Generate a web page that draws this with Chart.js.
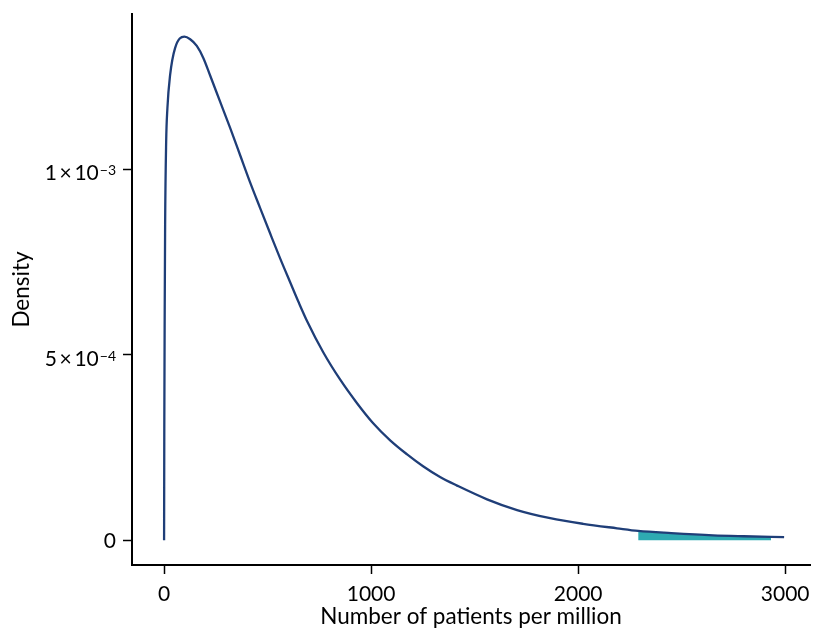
<!DOCTYPE html>
<html>
<head>
<meta charset="utf-8">
<script src="https://cdn.jsdelivr.net/npm/chart.js@4"></script>
<style>
  html, body { margin: 0; padding: 0; background: #fff; }
  #wrap { width: 814px; height: 630px; }
</style>
</head>
<body>
<div id="wrap"><canvas id="densityChart" width="814" height="630"></canvas></div>
<script>
// density curve (x = patients per million, y = density)
const curveX = [0, 1, 3, 5, 10, 16, 29, 53, 98, 126, 158, 190, 222, 271, 319, 367, 415, 464, 512, 560, 609, 650, 691, 768, 850, 932, 1010, 1092, 1174, 1251, 1333, 1415, 1560, 1705, 1865, 2024, 2188, 2290, 2450, 2652, 2800, 2995];
const curveY = [0, 0.00030, 0.00062, 0.00085, 0.001073, 0.001164, 0.001253, 0.001326, 0.001357, 0.001350, 0.001332, 0.001299, 0.001253, 0.001181, 0.001111, 0.001038, 0.000965, 0.000895, 0.000827, 0.000760, 0.000695, 0.000641, 0.000590, 0.000507, 0.000433, 0.000369, 0.000315, 0.000269, 0.000231, 0.000199, 0.000170, 0.000147, 0.000110, 0.000081, 0.000059, 0.000044, 0.000032, 0.000025, 0.000019, 0.000013, 0.0000105, 0.000008];

// shaded tail area
const tailX = [2290, 2450, 2652, 2800, 2932];
const tailY = [0.000024, 0.000018, 0.000012, 0.0000095, 0.000008];

const xTicks = [0, 1000, 2000, 3000];
const yTicks = [0, 0.0005, 0.001];
// y tick labels as [mantissa part, exponent]
const yTickBase = ['0', '5\u2009\u00d7\u200910', '1\u2009\u00d7\u200910'];
const yTickExp = ['', '\u22124', '\u22123'];

const toPts = (xs, ys) => xs.map((x, i) => ({ x: x, y: ys[i] }));

// draws "a×10" with a raised exponent, right aligned next to each y tick
const yLabels = {
    id: 'yLabels',
    afterDraw(chart) {
        const c = chart.ctx;
        const sy = chart.scales.y;
        const right = 116;
        c.save();
        c.fillStyle = '#000';
        c.textBaseline = 'alphabetic';
        yTicks.forEach((v, i) => {
            const py = sy.getPixelForValue(v);
            c.font = '14px Lato';
            const ew = yTickExp[i] ? c.measureText(yTickExp[i]).width : 0;
            if (yTickExp[i]) {
                c.textAlign = 'right';
                c.fillText(yTickExp[i], right, py + 6);
            }
            c.font = '21px Lato';
            c.textAlign = 'right';
            c.fillText(yTickBase[i], right - ew - (ew ? 1 : 0), py + (ew ? 11 : 7.5));
        });
        c.restore();
    }
};

const ctx = document.getElementById('densityChart').getContext('2d');

new Chart(ctx, {
    type: 'line',
    data: {
        datasets: [
            {
                label: 'Density',
                data: toPts(curveX, curveY),
                borderColor: '#1f3e78',
                borderWidth: 2.3,
                pointRadius: 0,
                cubicInterpolationMode: 'monotone',
                fill: false,
                order: 1
            },
            {
                label: 'Tail',
                data: toPts(tailX, tailY),
                borderWidth: 0,
                borderColor: 'rgba(0,0,0,0)',
                backgroundColor: '#2eaab2',
                pointRadius: 0,
                cubicInterpolationMode: 'monotone',
                fill: 'origin',
                order: 2
            }
        ]
    },
    options: {
        responsive: false,
        animation: false,
        layout: { padding: { top: 14, right: 4, left: 0, bottom: 0 } },
        plugins: {
            legend: { display: false },
            tooltip: { enabled: false }
        },
        scales: {
            x: {
                type: 'linear',
                min: -155,
                max: 3120,
                afterBuildTicks: s => { s.ticks = xTicks.map(v => ({ value: v })); },
                afterFit: s => { s.height = 65; s.paddingLeft = 0; s.paddingRight = 0; },
                grid: { drawOnChartArea: false, tickLength: 9, tickWidth: 1.5, tickColor: '#000' },
                border: { color: '#000', width: 2 },
                ticks: {
                    color: '#000',
                    font: { family: 'Lato', size: 21 },
                    padding: 8,
                    maxRotation: 0,
                    callback: v => String(v)
                },
                title: {
                    display: true,
                    text: 'Number of patients per million',
                    color: '#000',
                    font: { family: 'Lato', size: 22.5 },
                    padding: { top: 0, bottom: 0 }
                }
            },
            y: {
                type: 'linear',
                min: -0.000067,
                max: 0.001418,
                afterBuildTicks: s => { s.ticks = yTicks.map(v => ({ value: v })); },
                afterFit: s => { s.width = 132; s.paddingTop = 0; s.paddingBottom = 0; },
                grid: { drawOnChartArea: false, tickLength: 9, tickWidth: 1.5, tickColor: '#000' },
                border: { color: '#000', width: 2 },
                ticks: {
                    color: '#000',
                    font: { family: 'Lato', size: 21 },
                    padding: 5,
                    callback: () => ''
                },
                title: {
                    display: true,
                    text: 'Density',
                    color: '#000',
                    font: { family: 'Lato', size: 22.5 },
                    padding: { top: 8, bottom: 0 }
                }
            }
        }
    },
    plugins: [yLabels]
});
</script>
</body>
</html>
